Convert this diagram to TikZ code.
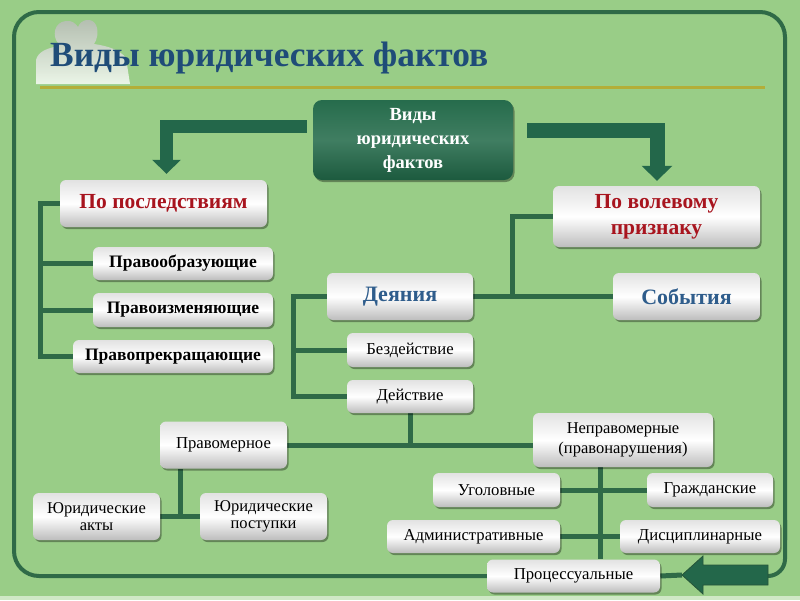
\documentclass[tikz,border=0pt]{standalone}
\usepackage{fontspec}
\setmainfont{Liberation Serif}
\usepackage{graphicx}
\usetikzlibrary{shadows,calc,arrows.meta}
\definecolor{bgc}{HTML}{99CD87}
\definecolor{lineg}{HTML}{2F6A47}
\definecolor{arrowg}{HTML}{23674A}
\definecolor{titleb}{HTML}{1F4C78}
\definecolor{redtx}{HTML}{A8141E}
\definecolor{bluetx}{HTML}{2F5D8C}
\definecolor{olivel}{HTML}{B3AE38}
\definecolor{boxtop}{HTML}{E2E2E2}
\definecolor{boxbot}{HTML}{BDBDBD}
\definecolor{ctrtop}{HTML}{266C4C}
\definecolor{ctrbot}{HTML}{1C5A3E}
\definecolor{stripc}{HTML}{CFE8C6}
\pgfdeclarelayer{back}
\pgfdeclarelayer{lines}
\pgfsetlayers{back,lines,main}
\begin{document}
\begin{tikzpicture}[x=1pt,y=-1pt,
  wbox/.style={rounded corners=6pt, top color=boxtop, bottom color=boxbot, middle color=white,
    inner sep=0pt, align=center, text=black,
    drop shadow={shadow xshift=1.5pt, shadow yshift=-2pt, fill=black, opacity=0.35}},
  cbox/.style={rounded corners=9pt, top color=ctrtop, bottom color=ctrbot, middle color=ctrtop!88!white,
    inner sep=0pt, align=center, text=white,
    font=\fontsize{18.5}{24}\selectfont\bfseries,
    drop shadow={shadow xshift=1.5pt, shadow yshift=-2pt, fill=black, opacity=0.35}},
  rtext/.style={font=\fontsize{21.5}{26}\selectfont\bfseries, text=redtx},
  btext/.style={font=\fontsize{22}{24}\selectfont\bfseries, text=bluetx},
  ktext/.style={font=\fontsize{17.5}{20}\selectfont\bfseries},
  ntext/.style={font=\fontsize{16.7}{19}\selectfont},
  conn/.style={draw=lineg, line width=5pt},
  frame/.style={draw=lineg, line width=4pt},
  bigarrow/.style={draw=arrowg, line width=13pt, -{Triangle[width=28pt,length=14pt]}},
  bigarrowr/.style={draw=arrowg, line width=15pt, -{Triangle[width=30pt,length=15pt]}}
]
\useasboundingbox (0,0) rectangle (800,600);
\begin{pgfonlayer}{back}
\fill[bgc] (0,0) rectangle (800,600);
\fill[stripc] (0,596) rectangle (800,600);
\end{pgfonlayer}

% decorative silhouette
\shade[top color=gray!55, bottom color=white, opacity=0.8]
  (36,84) -- (36,60) .. controls (38,52) and (46,49) .. (54,47) -- (58,43)
  .. controls (52,36) and (54,22) .. (66,21) .. controls (72,20) and (76,24) .. (78,27)
  .. controls (81,19) and (92,17) .. (96,25) .. controls (99,32) and (97,40) .. (94,44)
  .. controls (108,46) and (120,50) .. (126,58) -- (130,84) -- cycle;

% title
\node[anchor=base west, inner sep=0pt, text=titleb] (title) at (50,66)
  {\resizebox{438pt}{!}{\fontsize{34}{40}\selectfont\bfseries Виды юридических фактов}};
\draw[olivel, line width=3pt] (40,87) -- (765,87);

% nodes
\node[cbox, minimum width=200pt, minimum height=80pt] (ctr) at (413,140) {Виды\\юридических\\фактов};

\node[wbox, rtext, minimum width=207pt, minimum height=47pt] (pp) at (163.5,203.5) {По последствиям};
\node[wbox, ktext, minimum width=180pt, minimum height=33pt] (po) at (183,263.5) {Правообразующие};
\node[wbox, ktext, minimum width=180pt, minimum height=34pt] (pi) at (183,310) {Правоизменяющие};
\node[wbox, ktext, minimum width=200pt, minimum height=33pt] (pr) at (173,356.5) {Правопрекращающие};

\node[wbox, rtext, minimum width=207pt, minimum height=61pt] (pv) at (656.5,216.5) {По волевому\\признаку};
\node[wbox, btext, minimum width=146pt, minimum height=47pt] (dn) at (400,296.5) {Деяния};
\node[wbox, btext, minimum width=147pt, minimum height=47pt] (sb) at (686.5,296.5) {События};
\node[wbox, ntext, minimum width=126pt, minimum height=34pt] (bz) at (410,350) {Бездействие};
\node[wbox, ntext, minimum width=126pt, minimum height=33pt] (dv) at (410,396.5) {Действие};

\node[wbox, ntext, minimum width=127pt, minimum height=47pt] (pm) at (223.5,445) {Правомерное};
\node[wbox, ntext, minimum width=127pt, minimum height=47pt, font=\fontsize{16.5}{17.5}\selectfont] (ja) at (96.5,516.5) {Юридические\\акты};
\node[wbox, ntext, minimum width=127pt, minimum height=47pt, font=\fontsize{16.5}{17.5}\selectfont] (jp) at (263.5,516.5) {Юридические\\поступки};

\node[wbox, ntext, minimum width=180pt, minimum height=54pt, font=\fontsize{16.5}{20}\selectfont] (np) at (623,440) {Неправомерные\\(правонарушения)};
\node[wbox, ntext, minimum width=127pt, minimum height=34pt] (ug) at (496.5,490) {Уголовные};
\node[wbox, ntext, minimum width=126pt, minimum height=34pt] (gr) at (710,490) {Гражданские};
\node[wbox, ntext, minimum width=173pt, minimum height=33pt] (ad) at (473.5,536.5) {Административные};
\node[wbox, ntext, minimum width=160pt, minimum height=33pt] (ds) at (700,536.5) {Дисциплинарные};
\node[wbox, ntext, minimum width=173pt, minimum height=33pt] (pc) at (573.5,576) {Процессуальные};

\coordinate (arrtip) at (682,575);
\coordinate (Lx) at (40,0);
\coordinate (Dx) at (293,0);
\coordinate (Vx) at (512,0);
\coordinate (Nx) at (600,0);
\coordinate (jm) at ($(ja.east)!0.5!(jp.west)$);

\begin{pgfonlayer}{lines}
% frame
\draw[frame, rounded corners=25pt] (pc.west) -| (14,12) -| (785,540);
\draw[frame, rounded corners=17pt] (785,520) |- (768,576);
% big arrows
\draw[bigarrow] ($(ctr.west)+(-6,-13.5)$) -| ($(pp.north)+(3,-6)$);
\draw[bigarrowr] ($(ctr.east)+(14,-9.5)$) -| ($(pv.north)+(0.5,-5)$);
% connectors
\draw[conn] (pp.west) -- (pp.west -| Lx) -- (pr.west -| Lx) -- (pr.west);
\draw[conn] (po.west) -- (po.west -| Lx);
\draw[conn] (pi.west) -- (pi.west -| Lx);
\draw[conn] (dn.west) -- (dn.west -| Dx) -- (dv.west -| Dx) -- (dv.west);
\draw[conn] (bz.west) -- (bz.west -| Dx);
\draw[conn] (dn.east) -- (sb.west);
\draw[conn] (dn.east -| Vx) -- (pv.west -| Vx) -- (pv.west);
\draw[conn] (dv.south) -- (dv.south |- pm.east);
\draw[conn] (pm.east) -- (pm.east -| np.west);
\draw[conn] (ja.east) -- (jp.west);
\draw[conn] (jm) -- (jm |- pm.south);
\draw[conn] (np.south -| Nx) -- (pc.north -| Nx);
\draw[conn] (ug.east) -- (gr.west);
\draw[conn] (ad.east) -- (ds.west);
\draw[conn] (pc.east) -- (arrtip);
\end{pgfonlayer}
% bottom right block arrow
\filldraw[fill=arrowg, draw=lineg!80!black, line width=0.8pt]
  (arrtip) -- (703,556) -- (703,565) -- (768,565) -- (768,585) -- (703,585) -- (703,594) -- cycle;
\end{tikzpicture}
\end{document}
